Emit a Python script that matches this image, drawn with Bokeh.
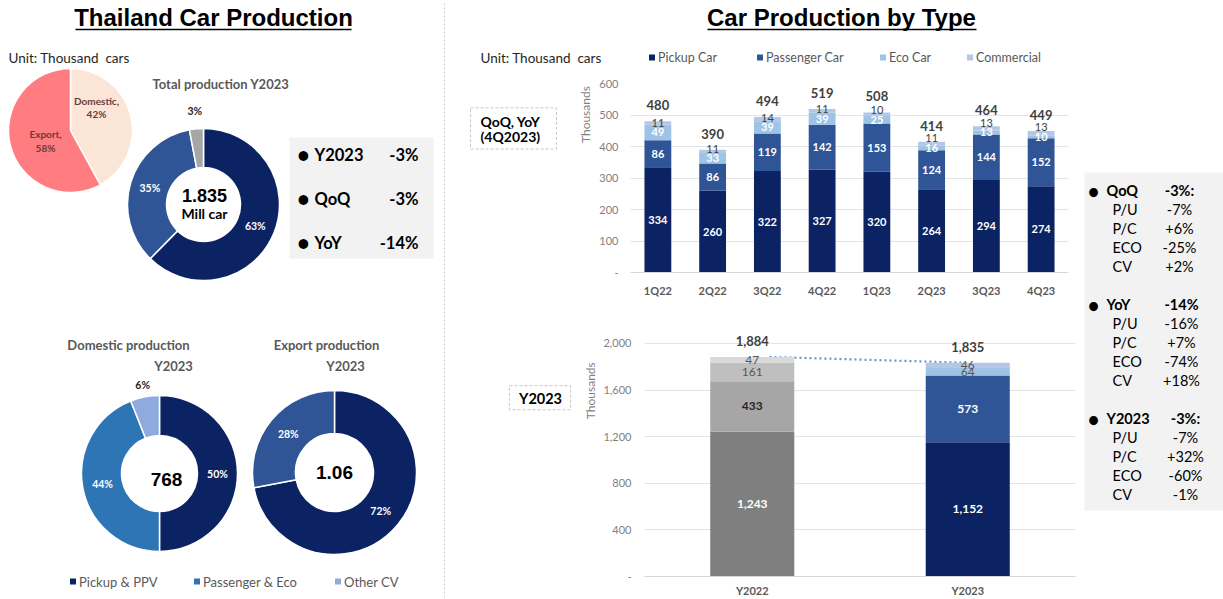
import numpy as np
from bokeh.plotting import figure
from bokeh.models import Range1d, FactorRange, FixedTicker, ColumnDataSource, NumeralTickFormatter
from bokeh.layouts import row, column
from bokeh.embed import file_html
from bokeh.resources import INLINE
from bokeh.core.properties import value

# ---------------- data ----------------
quarters = ["1Q22", "2Q22", "3Q22", "4Q22", "1Q23", "2Q23", "3Q23", "4Q23"]
pickup_q = [334, 260, 322, 327, 320, 264, 294, 274]
passenger_q = [86, 86, 119, 142, 153, 124, 144, 152]
eco_q = [49, 33, 39, 39, 25, 16, 13, 10]
commercial_q = [11, 11, 14, 11, 10, 11, 13, 13]
total_q = [480, 390, 494, 519, 508, 414, 464, 449]

years = ["Y2022", "Y2023"]
pickup_y = [1243, 1152]
passenger_y = [433, 573]
eco_y = [161, 64]
commercial_y = [47, 46]
total_y = ["1,884", "1,835"]

origin_names = ["Domestic,", "Export,"]
origin_share = [42, 58]
mix_share = [63, 35, 3]
mix_labels = ["63%", "35%", "3%"]
dom_share = [50, 44, 6]
dom_labels = ["50%", "44%", "6%"]
dom_total = "768"
exp_share = [72, 28]
exp_labels = ["72%", "28%"]
exp_total = "1.06"
total_2023 = "1.835"

kpi_names = ["Y2023", "QoQ", "YoY"]
kpi_values = ["-3%", "-3%", "-14%"]

legend_left = ["Pickup & PPV", "Passenger & Eco", "Other CV"]
legend_right = ["Pickup Car", "Passenger Car", "Eco Car", "Commercial"]

panel_heads = ["QoQ", "YoY", "Y2023"]
panel_head_vals = ["-3%:", "-14%", "-3%:"]
panel_items = ["P/U", "P/C", "ECO", "CV"]
panel_vals = [["-7%", "+6%", "-25%", "+2%"],
              ["-16%", "+7%", "-74%", "+18%"],
              ["-7%", "+32%", "-60%", "-1%"]]

UNIT = "Unit: Thousand\u00a0\u00a0cars"

# ---------------- style ----------------
NAVY = "#0B2362"
BLUE = "#2F5597"
BLUE2 = "#2E75B6"
LBLUE = "#8FAADC"
ECO = "#9DC3E6"
COMM = "#B4C7E7"
GRAYS = ["#7F7F7F", "#A6A6A6", "#BFBFBF", "#D9D9D9"]
PANEL = "#F2F2F2"
SANS = "Lato"
ARIAL = "Liberation Sans"


def canvas(x0, x1, y0, y1):
    p = figure(width=x1 - x0, height=y1 - y0, x_range=Range1d(x0, x1), y_range=Range1d(-y1, -y0),
               x_axis_type=None, y_axis_type=None, toolbar_location=None, output_backend="svg",
               min_border=0, outline_line_color=None)
    return p


def txt(p, x, y, t, size, color="#000000", bold=False, font=SANS, align="left", baseline="middle", angle=0.0):
    p.text(x=[x], y=[-y], text=[t], text_font=value(font), text_font_size=size,
           text_color=color, text_font_style="bold" if bold else "normal",
           text_align=align, text_baseline=baseline, angle=angle)


def donut(p, cx, cy, r_in, r_out, shares, colors):
    frac = np.array(shares, float) / sum(shares)
    cum = np.concatenate([[0.0], np.cumsum(frac)])
    start = np.pi / 2 - cum[1:] * 2 * np.pi
    end = np.pi / 2 - cum[:-1] * 2 * np.pi
    p.annular_wedge(x=cx, y=-cy, inner_radius=r_in, outer_radius=r_out,
                    start_angle=list(start), end_angle=list(end),
                    fill_color=colors, line_color="white", line_width=1.5)
    return (start + end) / 2


def ring_labels(p, cx, cy, mids, radii, labels, colors, size="10.5px"):
    for m, r, t, c in zip(mids, radii, labels, colors):
        txt(p, cx + r * np.cos(m), cy - r * np.sin(m), t, size, color=c, bold=True, align="center")


def style_axes(p, x_standoff, y_standoff):
    for ax in (p.xaxis, p.yaxis):
        ax.major_tick_line_color = None
        ax.minor_tick_line_color = None
        ax.major_tick_out = 0
        ax.major_tick_in = 0
        ax.minor_tick_out = 0
        ax.minor_tick_in = 0
        ax.major_label_text_font = SANS
        ax.major_label_text_color = "#7F7F7F"
        ax.major_label_text_font_size = "11px"
    p.xaxis.major_label_standoff = x_standoff
    p.yaxis.major_label_standoff = y_standoff
    p.yaxis.axis_line_color = None
    p.xaxis.axis_line_color = "#D9D9D9"
    p.xaxis.major_label_text_font_style = "bold"
    p.xaxis.major_label_text_color = "#595959"
    p.xgrid.visible = False
    p.ygrid.grid_line_color = "#E4E4E4"


# ---------------- left panel ----------------
L = canvas(0, 445, 0, 599)
L.line([444, 444], [-3, -597], line_color="#D0D0D0", line_width=1, line_dash="2 2")
txt(L, 213, 17, "Thailand Car Production", "24px", bold=True, font=ARIAL, align="center")
L.line([75, 351], [-29, -29], line_color="black", line_width=1.5)
txt(L, 8, 57, UNIT, "13.5px", color="#262626")

# export / domestic pie
donut(L, 70, 130, 0, 62, origin_share, ["#FBE5D6", "#FF7C80"])
txt(L, 96, 100, origin_names[0], "10px", color="#6B3B3B", bold=True, align="center")
txt(L, 96, 113, f"{origin_share[0]}%", "10px", color="#6B3B3B", bold=True, align="center")
txt(L, 45, 133, origin_names[1], "10px", color="#6B3B3B", bold=True, align="center")
txt(L, 45, 147, f"{origin_share[1]}%", "10px", color="#6B3B3B", bold=True, align="center")

# total production donut
txt(L, 152, 83, "Total production Y2023", "13px", color="#595959", bold=True)
mids = donut(L, 203, 204, 37, 76, mix_share, [NAVY, BLUE, "#A6A6A6"])
ring_labels(L, 203, 204, mids, [56, 56, 94], mix_labels, ["white", "white", "#262626"])
txt(L, 204, 195, total_2023, "18px", bold=True, font=ARIAL, align="center")
txt(L, 204, 213, "Mill car", "14px", bold=True, align="center")

# KPI box
L.quad(left=289, right=433, top=-137, bottom=-258, fill_color=PANEL, line_color=None)
for i, (n, v) in enumerate(zip(kpi_names, kpi_values)):
    yy = 154 + 44 * i
    txt(L, 303, yy, "\u2022", "22px", bold=True, align="center")
    txt(L, 314, yy, n, "16.5px", bold=True)
    txt(L, 418, yy, v, "16.5px", bold=True, align="right")

# domestic / export donuts
txt(L, 128, 344, "Domestic production", "13px", color="#595959", bold=True, align="center")
txt(L, 173, 365, "Y2023", "13px", color="#595959", bold=True, align="center")
txt(L, 326, 344, "Export production", "13px", color="#595959", bold=True, align="center")
txt(L, 345, 365, "Y2023", "13px", color="#595959", bold=True, align="center")

mids = donut(L, 159, 473, 38, 78, dom_share, [NAVY, BLUE2, LBLUE])
ring_labels(L, 159, 473, mids, [58, 58, 90], dom_labels, ["white", "white", "#262626"])
txt(L, 166, 479, dom_total, "19px", bold=True, font=ARIAL, align="center")

mids = donut(L, 334, 472, 39, 82, exp_share, [NAVY, BLUE])
ring_labels(L, 334, 472, mids, [60, 60], exp_labels, ["white", "white"])
txt(L, 334, 472, exp_total, "19px", bold=True, font=ARIAL, align="center")

for xs, lab, c in zip([72.5, 196.5, 337.5], legend_left, [NAVY, BLUE2, LBLUE]):
    L.rect(x=[xs], y=[-581], width=6, height=6, fill_color=c, line_color=None)
    txt(L, xs + 6, 581, lab, "13px", color="#595959")

# ---------------- right header ----------------
H = canvas(445, 1223, 0, 75)
txt(H, 841, 17, "Car Production by Type", "24px", bold=True, font=ARIAL, align="center")
H.line([707, 976], [-29, -29], line_color="black", line_width=1.5)
txt(H, 480, 57, UNIT, "13.5px", color="#262626")
for xs, lab, c in zip([651.5, 759.5, 882.5, 969.5], legend_right, [NAVY, BLUE, ECO, COMM]):
    H.rect(x=[xs], y=[-57], width=6, height=6, fill_color=c, line_color=None)
    txt(H, xs + 6, 57, lab, "12.5px", color="#595959")

# ---------------- quarterly stacked bars ----------------
B1 = canvas(445, 595, 75, 300)
B1.quad(left=470, right=556, top=-104, bottom=-153, fill_color=None, line_color="#C8C8C8", line_dash="3 2")
txt(B1, 480, 120, "QoQ, YoY", "14px", bold=True)
txt(B1, 480, 138, "(4Q2023)", "14px", bold=True)
txt(B1, 585, 112, "Thousands", "12px", color="#7F7F7F", align="center", angle=np.pi / 2)

P1 = figure(width=483, height=225, x_range=FactorRange(*quarters), y_range=Range1d(0, 600),
            toolbar_location=None, output_backend="svg", min_border_left=35, min_border_right=10,
            min_border_top=8, min_border_bottom=28, outline_line_color=None)
src = ColumnDataSource(dict(q=quarters, pickup=pickup_q, passenger=passenger_q, eco=eco_q, commercial=commercial_q))
P1.vbar_stack(["pickup", "passenger", "eco", "commercial"], x="q", width=0.49,
              color=[NAVY, BLUE, ECO, COMM], line_color=None, source=src)
pk, ps, ec, cm = (np.array(a, float) for a in (pickup_q, passenger_q, eco_q, commercial_q))
lab = ColumnDataSource(dict(q=quarters * 3,
                            y=list(pk / 2) + list(pk + ps / 2) + list(pk + ps + ec / 2),
                            t=[str(v) for v in pickup_q + passenger_q + eco_q]))
P1.text(x="q", y="y", text="t", source=lab, text_color="white", text_font=value(SANS),
        text_font_size="11px", text_font_style="bold", text_align="center", text_baseline="middle")
eco_mid = pk + ps + ec / 2
comm_y = np.maximum(pk + ps + ec + cm / 2, eco_mid + 31)
P1.text(x=quarters, y=list(comm_y), text=[str(v) for v in commercial_q], text_color="#404040",
        text_font=value(SANS), text_font_size="11px", text_align="center", text_baseline="middle")
P1.text(x=quarters, y=list(pk + ps + ec + cm), text=[str(v) for v in total_q], text_color="#404040",
        text_font=value(SANS), text_font_size="13px", text_font_style="bold",
        text_align="center", text_baseline="middle", y_offset=-16)
P1.yaxis.ticker = FixedTicker(ticks=[0, 100, 200, 300, 400, 500, 600])
P1.yaxis.major_label_overrides = {0: "-"}
style_axes(P1, 11, 12)

# ---------------- yearly stacked bars ----------------
B2 = canvas(445, 600, 300, 599)
B2.quad(left=509, right=570, top=-369, bottom=-398, fill_color=None, line_color="#C8C8C8", line_dash="3 2")
txt(B2, 540, 384, "Y2023", "14.5px", bold=True, align="center")
txt(B2, 590, 375, "Thousands", "12px", color="#7F7F7F", align="center", angle=np.pi / 2)

P2 = figure(width=478, height=299, x_range=Range1d(-0.5, 1.5), y_range=Range1d(0, 2128),
            toolbar_location=None, output_backend="svg", min_border_left=43, min_border_right=3,
            min_border_top=28, min_border_bottom=22, outline_line_color=None)
year_colors = [GRAYS, [NAVY, BLUE, ECO, COMM]]
label_colors = [["white", "#262626", "#595959", "#595959"], ["white", "white", "#595959", "#595959"]]
label_bold = [True, True, False, False]
seg = dict(x=[], bottom=[], top=[], color=[], mid=[], t=[], tc=[], fs=[])
totals_num = []
for j in range(len(years)):
    parts = [pickup_y[j], passenger_y[j], eco_y[j], commercial_y[j]]
    cum = 0
    for i, v in enumerate(parts):
        seg["x"].append(j)
        seg["bottom"].append(cum)
        seg["top"].append(cum + v)
        seg["color"].append(year_colors[j][i])
        seg["mid"].append(cum + v / 2)
        seg["t"].append(f"{v:,}")
        seg["tc"].append(label_colors[j][i])
        seg["fs"].append("bold" if label_bold[i] else "normal")
        cum += v
    totals_num.append(cum)
ssrc = ColumnDataSource(seg)
P2.line(x=[0.08, 0.98], y=totals_num, line_color="#5B9BD5", line_width=2.2, line_dash="2 3")
P2.vbar(x="x", bottom="bottom", top="top", width=0.39, fill_color="color", line_color=None, source=ssrc)
P2.text(x="x", y="mid", text="t", text_color="tc", text_font_style="fs", source=ssrc,
        text_font=value(SANS), text_font_size="12px", text_align="center", text_baseline="middle")
P2.text(x=[0, 1], y=totals_num, text=total_y, text_color="#404040", text_font=value(SANS),
        text_font_size="13px", text_font_style="bold", text_align="center",
        text_baseline="middle", y_offset=-16)
P2.yaxis.ticker = FixedTicker(ticks=[0, 400, 800, 1200, 1600, 2000])
P2.yaxis.formatter = NumeralTickFormatter(format="0,0")
P2.yaxis.major_label_overrides = {0: "-"}
P2.xaxis.ticker = FixedTicker(ticks=[0, 1])
P2.xaxis.major_label_overrides = {0: years[0], 1: years[1]}
style_axes(P2, 7, 13)

# ---------------- side panel ----------------
S = canvas(1078, 1223, 75, 599)
S.quad(left=1084, right=1223, top=-172, bottom=-510, fill_color=PANEL, line_color=None)
centers = [1179, 1181, 1185]
for k, (h, hv) in enumerate(zip(panel_heads, panel_head_vals)):
    y0 = 190 + 114 * k
    txt(S, 1093, y0, "\u2022", "20px", bold=True, align="center")
    txt(S, 1106, y0, h, "14.5px", bold=True)
    txt(S, centers[k], y0, hv, "14.5px", bold=True, align="center")
    for i, (it, iv) in enumerate(zip(panel_items, panel_vals[k])):
        yy = y0 + 19 * (i + 1)
        txt(S, 1112, yy, it, "14.5px")
        txt(S, centers[k], yy, iv, "14.5px", align="center")

right = column(H, row(column(row(B1, P1), row(B2, P2)), S))
page = row(L, right)

open("out.html", "w").write(file_html(page, INLINE))
